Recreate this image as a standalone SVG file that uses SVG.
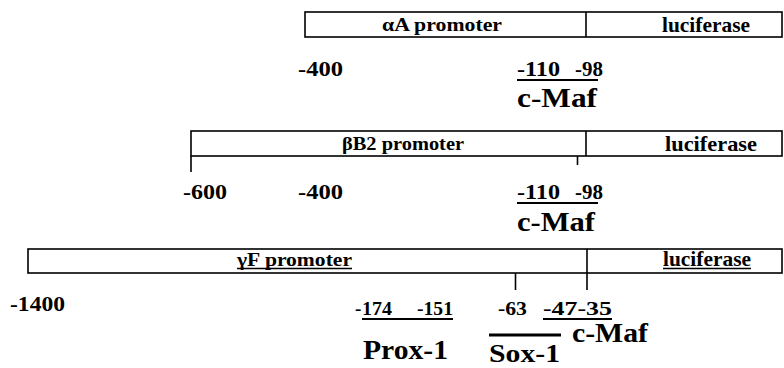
<svg xmlns="http://www.w3.org/2000/svg" width="784" height="368" viewBox="0 0 784 368">
<style>
text{font-family:"Liberation Serif","Times New Roman",serif;font-weight:bold;fill:#000}
.box{fill:#fff;stroke:#000;stroke-width:1.6}
.ln{stroke:#000;stroke-width:1.6;fill:none}
.ul{stroke:#000;stroke-width:2;fill:none}
.bx{font-size:18px}
.lu{font-size:21px}
.num{font-size:21px}
.sm{font-size:19px}
.big{font-size:28px}
</style>
<rect width="784" height="368" fill="#fff"/>
<g id="row1">
  <g id="alphaA-construct">
    <rect class="box" x="305" y="12" width="477" height="25"/>
    <line class="ln" x1="586" y1="12" x2="586" y2="37"/>
    <text class="bx" x="382" y="31" textLength="120" lengthAdjust="spacingAndGlyphs">αA promoter</text>
    <text class="lu" x="662" y="32" textLength="88" lengthAdjust="spacingAndGlyphs">luciferase</text>
  </g>
  <g id="alphaA-labels">
    <text class="num" x="298" y="76" textLength="45" lengthAdjust="spacingAndGlyphs">-400</text>
    <text class="num" x="517" y="76" textLength="43" lengthAdjust="spacingAndGlyphs">-110</text>
    <text class="num" x="575" y="76" textLength="28" lengthAdjust="spacingAndGlyphs">-98</text>
    <line class="ul" x1="517" y1="80" x2="598" y2="80"/>
    <text class="big" x="517" y="107" textLength="80" lengthAdjust="spacingAndGlyphs">c-Maf</text>
  </g>
</g>
<g id="row2">
  <g id="betaB2-construct">
    <rect class="box" x="191" y="131" width="591" height="25"/>
    <line class="ln" x1="586" y1="131" x2="586" y2="156"/>
    <text class="bx" x="342" y="150" textLength="122" lengthAdjust="spacingAndGlyphs">βB2 promoter</text>
    <text class="lu" x="665" y="151" textLength="92" lengthAdjust="spacingAndGlyphs">luciferase</text>
  </g>
  <g id="betaB2-labels">
    <text class="num" x="183" y="199" textLength="44" lengthAdjust="spacingAndGlyphs">-600</text>
    <text class="num" x="298" y="199" textLength="45" lengthAdjust="spacingAndGlyphs">-400</text>
    <text class="num" x="517" y="199" textLength="43" lengthAdjust="spacingAndGlyphs">-110</text>
    <text class="num" x="575" y="199" textLength="28" lengthAdjust="spacingAndGlyphs">-98</text>
    <line class="ul" x1="517" y1="203" x2="598" y2="203"/>
    <text class="big" x="517" y="231" textLength="78" lengthAdjust="spacingAndGlyphs">c-Maf</text>
  </g>
</g>
<g id="row3">
  <g id="gammaF-construct">
    <rect class="box" x="28" y="249" width="754" height="24"/>
    <text class="bx" x="237" y="266" textLength="115" lengthAdjust="spacingAndGlyphs">γF promoter</text>
    <line class="ln" x1="237" y1="268.5" x2="352" y2="268.5"/>
    <text class="lu" x="663" y="266" textLength="88" lengthAdjust="spacingAndGlyphs">luciferase</text>
    <line class="ln" x1="663" y1="268.5" x2="751" y2="268.5"/>
  </g>
  <g id="gammaF-labels">
    <text class="num" x="10" y="311" textLength="55" lengthAdjust="spacingAndGlyphs">-1400</text>
    <text class="sm" x="355" y="315">-</text>
    <text class="sm" x="362" y="315" textLength="30" lengthAdjust="spacingAndGlyphs">174</text>
    <text class="sm" x="417" y="315" textLength="36" lengthAdjust="spacingAndGlyphs">-151</text>
    <line class="ul" x1="362" y1="319" x2="453" y2="319"/>
    <text class="sm" x="498" y="315" textLength="29" lengthAdjust="spacingAndGlyphs">-63</text>
    <text class="sm" x="543" y="315" textLength="69" lengthAdjust="spacingAndGlyphs">-47-35</text>
    <line class="ul" x1="543" y1="319" x2="612" y2="319"/>
  </g>
  <g id="prox1">
    <text class="big" x="363" y="359" textLength="85" lengthAdjust="spacingAndGlyphs">Prox-1</text>
  </g>
  <g id="sox1">
    <line x1="489" y1="335" x2="561" y2="335" stroke="#000" stroke-width="3"/>
    <text x="489" y="362" font-size="26" textLength="71" lengthAdjust="spacingAndGlyphs">Sox-1</text>
  </g>
  <g id="cmaf3">
    <text class="big" x="572" y="342" textLength="76" lengthAdjust="spacingAndGlyphs">c-Maf</text>
  </g>
</g>
<g id="connectors">
  <line class="ln" x1="191" y1="156" x2="191" y2="172"/>
  <line class="ln" x1="577.5" y1="156" x2="577.5" y2="165"/>
  <line class="ln" x1="587" y1="249" x2="587" y2="290"/>
  <line class="ln" x1="515.5" y1="273" x2="515.5" y2="290"/>
</g>
</svg>
